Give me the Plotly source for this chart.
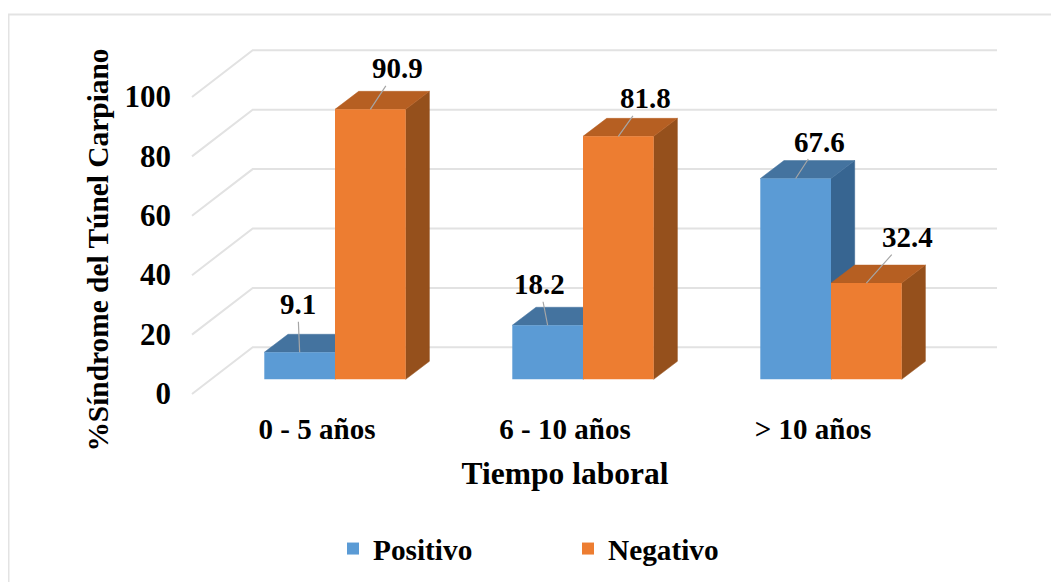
import plotly.graph_objects as go

categories = ["0 - 5 años", "6 - 10 años", "> 10 años"]
positivo = [9.1, 18.2, 67.6]
negativo = [90.9, 81.8, 32.4]
y_ticks = [0, 20, 40, 60, 80, 100]

# canvas layout; the page puts the figure at (8, 8), so screen pixels are offset
PAGE = 8
W, H = 1059 - PAGE, 582 - PAGE
L, R, T, B = 130 - PAGE, 1000 - PAGE, 40 - PAGE, 460 - PAGE
CAT_PX = 248.0      # spacing between categories
ORIGIN_PX = 335.0 - PAGE   # x pixel of category 0 centre
ZERO_PX = 379.3 - PAGE     # y pixel of value 0 on the bar front
UNIT_PX = 2.97      # pixels per percentage unit
BAR_W = 70.7 / CAT_PX
DEPTH_X = 23.7 / CAT_PX
DEPTH_Y = 18.0 / UNIT_PX
FLOOR_DX_RIGHT = (252.7 - 192.0) / CAT_PX
WALL_X0 = (252.7 - PAGE - ORIGIN_PX) / CAT_PX
WALL_X1 = (997.0 - PAGE - ORIGIN_PX) / CAT_PX
WALL_Y = (379.3 - 347.3) / UNIT_PX
FLOOR_Y = (394.0 - 347.3) / UNIT_PX

x_range = [(L - ORIGIN_PX) / CAT_PX, (R - ORIGIN_PX) / CAT_PX]
y_range = [(ZERO_PX - B) / UNIT_PX, (ZERO_PX - T) / UNIT_PX]

FONT = "Liberation Serif"
BLUE, BLUE_TOP, BLUE_SIDE = "#5B9BD5", "#44739F", "#376591"
ORANGE, ORANGE_TOP, ORANGE_SIDE = "#ED7D31", "#B65F22", "#95501C"
GRID = "#E2E2E2"


def bold(size):
    return dict(family=FONT, size=size, color="black", weight="bold")


fig = go.Figure()


def poly(xs, ys, color):
    fig.add_trace(go.Scatter(x=xs, y=ys, mode="lines", fill="toself", fillcolor=color,
                             line=dict(color=color, width=0.5), showlegend=False,
                             hoverinfo="skip", xaxis="x", yaxis="y"))


# back wall and floor guide lines
for v in y_ticks:
    wy = v + WALL_Y
    fig.add_trace(go.Scatter(x=[WALL_X0 - FLOOR_DX_RIGHT, WALL_X0, WALL_X1],
                             y=[wy - FLOOR_Y, wy, wy], mode="lines",
                             line=dict(color=GRID, width=2), showlegend=False,
                             hoverinfo="skip", xaxis="x", yaxis="y"))

# top and side faces, computed from each value
for i in range(len(categories)):
    for vals, x0, ctop, cside in ((positivo, i - BAR_W, BLUE_TOP, BLUE_SIDE),
                                  (negativo, float(i), ORANGE_TOP, ORANGE_SIDE)):
        v = vals[i]
        x1 = x0 + BAR_W
        poly([x1, x1 + DEPTH_X, x1 + DEPTH_X, x1, x1],
             [0, DEPTH_Y, v + DEPTH_Y, v, 0], cside)
        poly([x0, x1, x1 + DEPTH_X, x0 + DEPTH_X, x0],
             [v, v, v + DEPTH_Y, v + DEPTH_Y, v], ctop)

# front faces on the overlaying axes, so they cover the faces behind them
idx = list(range(len(categories)))
fig.add_trace(go.Bar(name="Positivo", x=idx, y=positivo, width=BAR_W, offset=-BAR_W,
                     marker=dict(color=BLUE, line=dict(width=0)), xaxis="x2", yaxis="y2"))
fig.add_trace(go.Bar(name="Negativo", x=idx, y=negativo, width=BAR_W, offset=0,
                     marker=dict(color=ORANGE, line=dict(width=0)), xaxis="x2", yaxis="y2"))

# data labels with leader lines: (dx, dy) from the bar's top-centre to the label
pos_offsets = [(-2, -48), (-8, -41), (24, -37)]
neg_offsets = [(27, -41), (27, -38), (41, -46)]
for i in idx:
    for vals, off, sign in ((positivo, pos_offsets, -0.5), (negativo, neg_offsets, 0.5)):
        fig.add_annotation(x=i + sign * BAR_W, y=vals[i], xref="x2", yref="y2",
                           text=str(vals[i]), showarrow=True, arrowhead=0,
                           arrowwidth=1.2, arrowcolor="#A6A6A6", ax=off[i][0], ay=off[i][1],
                           axref="pixel", ayref="pixel", font=bold(29))

# frame: its right and bottom edges lie beyond the picture
fig.add_shape(type="rect", xref="paper", yref="paper",
              x0=(8.5 - PAGE - L) / (R - L), x1=(1100 - PAGE - L) / (R - L),
              y0=(B - 640) / (B - T), y1=(B - 14.5 + PAGE) / (B - T),
              line=dict(color="#E3E3E3", width=2), layer="below")

fig.update_layout(
    width=W, height=H, autosize=False,
    margin=dict(l=L, r=W - R, t=T, b=H - B, autoexpand=False),
    paper_bgcolor="white", plot_bgcolor="white",
    barmode="overlay",
    font=dict(family=FONT, color="black", size=28),
    legend=dict(orientation="h", x=(333 - PAGE - L) / (R - L), y=(B - 549 + PAGE) / (B - T),
                xanchor="left", yanchor="middle", entrywidth=190, entrywidthmode="pixels",
                font=bold(29.3), bgcolor="rgba(0,0,0,0)", itemclick=False),
    xaxis=dict(range=x_range, tickmode="array", tickvals=idx, ticktext=categories,
               ticklabelshift=-18, showgrid=False, zeroline=False, showline=False, ticks="",
               anchor="free", position=(B - 409 + PAGE) / (B - T),
               title=dict(text="Tiempo laboral", standoff=17, font=bold(31.5)),
               tickfont=bold(29)),
    yaxis=dict(range=y_range, tickmode="array", tickvals=y_ticks, ticktext=[str(v) for v in y_ticks],
               ticklabelshift=14, showgrid=False, zeroline=False, showline=False, ticks="",
               anchor="free", position=(171 - PAGE - L) / (R - L),
               title=dict(text="%Síndrome del Túnel Carpiano", standoff=6, font=bold(29.4)),
               tickfont=bold(31)),
    xaxis2=dict(range=x_range, overlaying="x", visible=False, anchor="y2"),
    yaxis2=dict(range=y_range, overlaying="y", visible=False, anchor="x2"),
)

fig.write_html("out.html")
